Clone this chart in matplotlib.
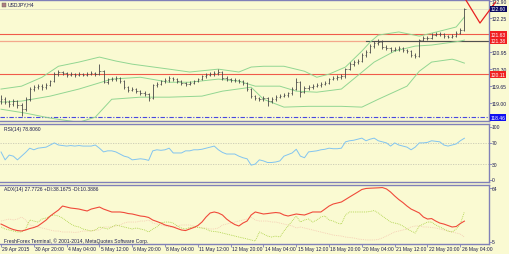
import matplotlib
matplotlib.use('Agg')
import matplotlib.pyplot as plt
from matplotlib.transforms import blended_transform_factory as btf
from matplotlib.patches import Rectangle

# ---------------- data ----------------
symbol_title = "USDJPY,H4"
rsi_title = "RSI(14) 78.8060"
adx_title = "ADX(14) 27.7726 +DI:38.1675 -DI:10.3886"
copyright_text = "FreshForex Terminal, \u00a9 2001-2014, MetaQuotes Software Corp."

x_labels = ['29 Apr 2015', '30 Apr 20:00', '4 May 04:00', '5 May 12:00', '6 May 20:00',
            '8 May 04:00', '11 May 12:00', '12 May 20:00', '14 May 04:00', '15 May 12:00',
            '18 May 20:00', '20 May 04:00', '21 May 12:00', '22 May 20:00', '26 May 04:00']
x_label_bars = [0, 8, 16, 24, 32, 40, 48, 56, 64, 72, 80, 88, 96, 104, 112]

opens = [119.10, 119.15, 119.04, 118.96, 119.08, 118.93, 118.77, 119.15, 119.54, 119.61,
         119.65, 119.61, 119.69, 119.84, 120.11, 120.19, 120.15, 120.07, 120.11, 120.07,
         120.11, 120.07, 120.11, 120.15, 120.11, 120.23, 119.80, 119.92, 119.92, 119.96,
         119.84, 119.61, 119.50, 119.54, 119.46, 119.38, 119.35, 119.19, 119.69, 119.73,
         119.84, 119.88, 119.96, 119.92, 119.84, 119.77, 119.73, 119.77, 119.84, 119.92,
         120.03, 120.07, 120.11, 120.15, 120.19, 119.96, 119.92, 119.88, 119.88, 119.84,
         119.77, 119.54, 119.27, 119.19, 119.15, 119.19, 119.08, 119.15, 119.23, 119.27,
         119.31, 119.38, 119.54, 119.80, 119.42, 119.58, 119.61, 119.65, 119.69, 119.73,
         119.77, 119.92, 119.96, 120.00, 120.03, 120.30, 120.49, 120.57, 120.61, 120.84,
         120.95, 121.18, 121.30, 121.34, 121.14, 121.11, 121.03, 121.07, 121.11, 121.03,
         120.99, 120.84, 120.80, 121.41, 121.49, 121.49, 121.60, 121.64, 121.64, 121.56,
         121.53, 121.56, 121.68, 121.79]
highs = [119.30, 119.22, 119.12, 119.15, 119.12, 119.00, 119.22, 119.60, 119.70, 119.74,
         119.72, 119.76, 119.90, 120.18, 120.26, 120.24, 120.20, 120.18, 120.16, 120.20,
         120.15, 120.19, 120.22, 120.20, 120.49, 120.28, 119.98, 119.99, 120.03, 120.00,
         119.88, 119.66, 119.62, 119.58, 119.52, 119.45, 119.40, 119.74, 119.80, 119.90,
         119.95, 120.02, 120.00, 119.96, 119.88, 119.82, 119.84, 119.90, 119.98, 120.08,
         120.14, 120.18, 120.22, 120.30, 120.22, 120.02, 119.97, 119.95, 119.93, 119.88,
         119.80, 119.58, 119.32, 119.25, 119.26, 119.23, 119.22, 119.30, 119.34, 119.38,
         119.44, 119.60, 119.95, 119.84, 119.64, 119.68, 119.72, 119.76, 119.80, 119.84,
         119.98, 120.03, 120.08, 120.10, 120.36, 120.56, 120.64, 120.70, 120.90, 121.02,
         121.25, 121.38, 121.44, 121.40, 121.22, 121.16, 121.14, 121.18, 121.15, 121.08,
         121.03, 120.90, 121.46, 121.56, 121.58, 121.67, 121.72, 121.70, 121.68, 121.62,
         121.63, 121.74, 121.86, 122.65]
lows = [118.98, 118.95, 118.85, 118.88, 118.82, 118.50, 118.72, 119.10, 119.45, 119.55,
        119.52, 119.55, 119.64, 119.80, 120.05, 120.08, 120.00, 120.02, 120.01, 120.03,
        120.02, 120.03, 120.06, 120.05, 120.06, 119.76, 119.75, 119.85, 119.86, 119.78,
        119.55, 119.44, 119.45, 119.40, 119.32, 119.28, 119.10, 119.15, 119.62, 119.68,
        119.78, 119.82, 119.85, 119.78, 119.70, 119.66, 119.68, 119.72, 119.80, 119.88,
        119.98, 120.02, 120.05, 120.08, 119.90, 119.86, 119.82, 119.80, 119.78, 119.70,
        119.48, 119.20, 119.12, 119.08, 119.10, 118.90, 119.02, 119.10, 119.18, 119.22,
        119.25, 119.33, 119.50, 119.25, 119.38, 119.52, 119.56, 119.60, 119.63, 119.68,
        119.72, 119.87, 119.90, 119.94, 119.98, 120.25, 120.42, 120.50, 120.56, 120.78,
        120.90, 121.12, 121.22, 121.08, 121.04, 120.95, 120.98, 121.01, 120.96, 120.92,
        120.78, 120.74, 120.76, 121.36, 121.42, 121.44, 121.55, 121.56, 121.50, 121.47,
        121.48, 121.52, 121.63, 121.75]
closes = [119.15, 119.04, 118.96, 119.08, 118.93, 118.77, 119.15, 119.54, 119.61, 119.65,
          119.61, 119.69, 119.84, 120.11, 120.19, 120.15, 120.07, 120.11, 120.07, 120.11,
          120.07, 120.11, 120.15, 120.11, 120.23, 119.80, 119.92, 119.92, 119.96, 119.84,
          119.61, 119.50, 119.54, 119.46, 119.38, 119.35, 119.19, 119.69, 119.73, 119.84,
          119.88, 119.96, 119.92, 119.84, 119.77, 119.73, 119.77, 119.84, 119.92, 120.03,
          120.07, 120.11, 120.15, 120.19, 119.96, 119.92, 119.88, 119.88, 119.84, 119.77,
          119.54, 119.27, 119.19, 119.15, 119.19, 119.08, 119.15, 119.23, 119.27, 119.31,
          119.38, 119.54, 119.80, 119.42, 119.58, 119.61, 119.65, 119.69, 119.73, 119.77,
          119.92, 119.96, 120.00, 120.03, 120.30, 120.49, 120.57, 120.61, 120.84, 120.95,
          121.18, 121.30, 121.34, 121.14, 121.11, 121.03, 121.07, 121.11, 121.03, 120.99,
          120.84, 120.80, 121.41, 121.49, 121.49, 121.60, 121.64, 121.64, 121.56, 121.53,
          121.56, 121.68, 121.79, 122.60]

bb_upper_bars = [0, 5, 10, 14, 19, 24, 28, 32, 41, 46, 53, 58, 61, 64, 69, 74, 77, 80, 84, 88, 90, 92, 97, 102, 107, 111, 113]
bb_upper = [119.54, 119.65, 119.99, 120.41, 120.57, 120.76, 120.61, 120.49, 120.30, 120.19, 120.30, 120.19, 120.38,
            120.41, 120.41, 120.22, 119.99, 120.11, 120.38, 120.99, 121.33, 121.60, 121.72, 121.56, 121.75, 121.91, 122.29]
bb_mid_bars = [0, 5, 12, 19, 27, 34, 41, 46, 53, 58, 62, 68, 72, 77, 83, 91, 96, 101, 105, 112, 113]
bb_mid = [119.04, 119.08, 119.27, 119.54, 119.92, 119.99, 119.80, 119.80, 119.92, 119.84, 119.65, 119.65, 119.46,
          119.42, 119.54, 120.57, 120.99, 121.18, 121.22, 121.37, 121.41]
bb_lower_bars = [0, 6, 12, 19, 23, 27, 34, 41, 49, 54, 61, 64, 69, 75, 83, 88, 92, 99, 102, 105, 110, 111, 113]
bb_lower = [118.77, 118.62, 118.43, 118.27, 118.47, 119.15, 119.23, 119.23, 119.27, 119.46, 119.61, 119.15, 118.85,
            118.88, 118.88, 118.85, 119.15, 119.65, 120.22, 120.57, 120.68, 120.64, 120.53]

level_bid = 122.60
level_red = [121.63, 120.11]
level_salmon = 121.38
level_blue = 118.46
dark_segment_start = 89

arrow_bars = [113.2, 116.8, 120.6]
arrow_prices = [122.98, 122.06, 122.86]

price_ticks = [122.90, 122.25, 120.95, 120.30, 119.65, 119.00]

rsi = [52.8, 38, 47, 45, 38, 45, 52, 60, 57, 60, 61, 62, 66, 70, 66, 65, 64, 65, 64, 65,
       64, 64, 64, 66, 60, 53, 55, 55, 53, 49, 45, 43, 38, 39, 40, 39, 37, 55, 57, 56,
       57, 60, 51, 51, 51, 55, 55, 57, 57, 58, 60, 62, 64, 57, 52, 49, 49, 49, 45, 42,
       40, 28, 30, 38, 36, 33, 33, 34, 36, 45, 48, 51, 58, 45, 42, 53, 54, 55, 57, 58,
       60, 59, 59, 60, 72, 74, 75, 77, 79, 74, 77, 79, 74, 72, 70, 64, 70, 66, 64, 62,
       57, 62, 70, 70, 71, 74, 73, 72, 66, 64, 66, 68, 74, 78.8]
rsi_levels = [70, 30]
rsi_ticks = [100, 70, 30, 0]

adx = [24.6, 22.5, 20.3, 18.6, 17.5, 17.0, 18.1, 19.7, 20.8, 22.5, 25.7, 29.0, 33.4, 36.7, 39.9, 44.3, 43.2, 42.1, 41.6, 41.0,
       39.9, 38.9, 41.0, 42.1, 43.2, 41.0, 39.4, 37.8, 37.8, 37.8, 37.2, 36.1, 35.6, 34.5, 33.4, 32.9, 31.8, 29.0, 27.4, 25.7,
       23.6, 22.5, 21.4, 19.7, 18.1, 17.5, 19.2, 20.8, 23.0, 26.8, 32.3, 36.7, 37.8, 36.7, 34.5, 30.1, 26.8, 24.1, 22.5, 25.7,
       27.9, 34.5, 37.8, 36.7, 35.6, 36.1, 36.7, 37.2, 36.7, 34.5, 33.4, 34.5, 35.6, 35.0, 34.5, 36.1, 37.8, 37.8, 37.8, 41.0,
       44.3, 46.5, 47.6, 48.7, 51.4, 54.2, 56.9, 59.6, 62.4, 63.5, 63.8, 64.0, 64.2, 64.5, 63.0, 59.6, 55.3, 51.4, 48.1, 44.3,
       41.0, 38.9, 36.7, 32.3, 30.1, 30.6, 27.9, 25.7, 24.6, 23.0, 21.4, 21.9, 25.2, 27.8]
plus_di = [21.4, 19.2, 18.1, 17.0, 15.9, 15.9, 19.2, 29.0, 27.9, 26.8, 30.1, 31.2, 33.4, 34.5, 33.4, 31.2, 27.9, 24.6, 22.5, 21.4,
           19.2, 18.1, 17.0, 18.1, 21.4, 20.3, 19.2, 21.4, 23.6, 22.5, 21.4, 20.3, 19.2, 20.3, 19.2, 18.1, 15.9, 19.2, 21.4, 25.7,
           26.8, 26.8, 25.7, 22.5, 20.3, 19.2, 20.8, 21.4, 20.8, 20.3, 19.2, 17.0, 16.5, 15.9, 14.8, 13.7, 12.6, 11.5, 10.4, 9.4,
           8.3, 7.2, 6.1, 15.9, 13.7, 11.5, 10.4, 11.5, 10.4, 17.0, 22.5, 27.9, 33.4, 26.8, 29.0, 30.1, 26.8, 29.0, 32.3, 33.4,
           29.0, 27.9, 25.7, 24.6, 34.5, 37.8, 37.8, 37.8, 37.8, 37.8, 38.3, 39.4, 36.7, 33.4, 30.1, 26.8, 25.7, 24.6, 22.5, 19.2,
           17.0, 14.8, 22.5, 24.6, 26.8, 26.8, 23.6, 21.4, 19.2, 17.0, 15.9, 19.2, 24.6, 38.2]
minus_di = [27.9, 29.0, 30.1, 29.0, 30.1, 32.3, 29.0, 23.6, 22.5, 21.4, 20.3, 19.2, 18.1, 17.0, 17.0, 15.9, 15.9, 15.9, 15.4, 15.9,
            17.0, 17.0, 17.0, 18.1, 18.1, 21.4, 21.4, 21.4, 22.5, 23.6, 25.7, 26.8, 26.8, 26.8, 27.9, 27.9, 29.0, 25.7, 24.6, 23.6,
            22.5, 21.4, 21.4, 22.5, 23.6, 23.6, 23.6, 22.5, 21.4, 20.3, 20.3, 19.2, 19.2, 20.3, 23.6, 24.6, 25.7, 26.8, 27.9, 29.0,
            30.1, 32.3, 29.0, 27.9, 27.9, 27.9, 26.8, 26.8, 25.7, 24.6, 23.6, 22.5, 20.3, 21.4, 20.3, 19.2, 18.1, 17.0, 15.9, 14.8,
            13.7, 12.6, 12.0, 11.5, 10.4, 9.9, 9.4, 8.3, 7.8, 7.2, 7.2, 7.2, 7.8, 9.4, 11.5, 13.7, 15.9, 17.0, 18.1, 19.2,
            21.4, 22.5, 22.5, 21.4, 21.4, 20.8, 20.3, 19.2, 18.1, 17.0, 15.9, 14.8, 13.7, 10.4]
adx_ticks = [64, 5]

# ---------------- style ----------------
W, H = 510, 255
BG = '#FAFAD2'
FRAME = '#8080B8'
TXT = '#1C1C50'
FONT = 'Liberation Sans'
FS = 3.6
RIGHT = 489

fig = plt.figure(figsize=(W / 100, H / 100), dpi=100)
fig.patch.set_facecolor(BG)


def rect(top, bottom, left=0, right=RIGHT):
    return [left / W, 1 - bottom / H, (right - left) / W, (bottom - top) / H]


ax = fig.add_axes(rect(1, 122))
axr = fig.add_axes(rect(124.5, 183))
axa = fig.add_axes(rect(186, 245))

n = len(closes)
XLIM = (-0.25, 119.0)
for a in (ax, axr, axa):
    a.set_facecolor(BG)
    a.set_xlim(*XLIM)
    for side in ('top', 'bottom', 'right'):
        a.spines[side].set_color(FRAME)
        a.spines[side].set_linewidth(1.0)
    a.spines['left'].set_visible(False)
    a.tick_params(left=False, labelleft=False, labelbottom=False, bottom=False,
                  right=True, labelright=False, direction='out', length=1.8, width=0.6, color=FRAME)

ax.set_ylim(118.32, 122.94)
axr.set_ylim(-3.8, 106.6)
axa.set_ylim(2.8, 67.3)

# ---------- main chart ----------
xs = list(range(n))
BB = '#92D692'
ax.plot(bb_upper_bars, bb_upper, color=BB, lw=0.7, zorder=2)
ax.plot(bb_mid_bars, bb_mid, color=BB, lw=0.7, zorder=2)
ax.plot(bb_lower_bars, bb_lower, color=BB, lw=0.7, zorder=2)

ax.axhline(level_bid, color='#DEDEC8', lw=0.6, zorder=1)
for lv in level_red:
    ax.axhline(lv, color='#F05A4A', lw=0.8, zorder=1)
ax.axhline(level_salmon, color='#F4A88C', lw=0.9, zorder=1)
ax.plot([dark_segment_start, XLIM[1]], [level_salmon, level_salmon], color='#505050', lw=0.8, zorder=1)
ax.axhline(level_blue, color='#4848E0', lw=0.8, ls=(0, (4, 1.5, 1, 1.5)), zorder=1)

BAR = '#484848'
ax.vlines(xs, lows, highs, color=BAR, lw=0.6, zorder=3)
ax.hlines(opens, [x - 0.3 for x in xs], xs, color=BAR, lw=0.45, zorder=3)
ax.hlines(closes, xs, [x + 0.3 for x in xs], color=BAR, lw=0.45, zorder=3)

ax.plot(arrow_bars, arrow_prices, color='#E82020', lw=0.9, clip_on=False, zorder=6)
ax.annotate('', xy=(arrow_bars[2], arrow_prices[2]), xytext=(arrow_bars[1] + 1.5, arrow_prices[1] + 0.2),
            arrowprops=dict(arrowstyle='-|>', color='#E82020', lw=0.0, mutation_scale=5),
            annotation_clip=False, zorder=6)

ax.set_yticks(price_ticks)
tr = btf(ax.transAxes, ax.transData)
LX = 1 + 3 / RIGHT
for v in price_ticks:
    ax.text(LX, v, f'{v:.2f}', transform=tr, ha='left', va='center', fontsize=FS, family=FONT, color=TXT)


def box(a, v, label, fc):
    a.text(1 + 1.5 / RIGHT, v, label, transform=btf(a.transAxes, a.transData), ha='left', va='center',
           fontsize=FS, family=FONT, color='white', zorder=10,
           bbox=dict(boxstyle='square,pad=0.18', fc=fc, ec='none'))


box(ax, level_bid, f'{level_bid:.2f}', '#0A0A60')
box(ax, level_red[0], f'{level_red[0]:.2f}', '#F02020')
box(ax, level_salmon, f'{level_salmon:.2f}', '#F02020')
box(ax, level_red[1], f'{level_red[1]:.2f}', '#F02020')
box(ax, level_blue, f'{level_blue:.2f}', '#1010F0')

ax.text(8 / RIGHT, 1 - 4 / 121, symbol_title, transform=ax.transAxes, ha='left', va='center',
        fontsize=FS, family=FONT, color=TXT)
ax.add_patch(Rectangle((2 / RIGHT, 1 - 6.5 / 121), 4 / RIGHT, 4 / 121, transform=ax.transAxes,
                       fc='#B08080', ec='#606060', lw=0.3, clip_on=False))

# ---------- RSI ----------
for lv in rsi_levels:
    axr.axhline(lv, color='#C8C8B4', lw=0.6, ls=(0, (1.5, 1.5)))
axr.plot(xs, rsi, color='#82C4F0', lw=0.7)
axr.set_yticks(rsi_ticks)
trr = btf(axr.transAxes, axr.transData)
for v in rsi_ticks:
    axr.text(LX, v, f'{v}', transform=trr, ha='left', va='center', fontsize=FS, family=FONT, color=TXT)
axr.text(4 / RIGHT, 1 - 4.5 / 58.5, rsi_title, transform=axr.transAxes, ha='left', va='center',
         fontsize=FS, family=FONT, color=TXT)

# ---------- ADX ----------
axa.plot(xs, minus_di, color='#F5C8B0', lw=0.6, ls=(0, (1, 1.2)))
axa.plot(xs, plus_di, color='#A8D040', lw=0.6, ls=(0, (1, 1.2)))
axa.plot(xs, adx, color='#F04A3A', lw=0.8)
axa.set_yticks(adx_ticks)
tra = btf(axa.transAxes, axa.transData)
for v in adx_ticks:
    axa.text(LX, v, f'{v}', transform=tra, ha='left', va='center', fontsize=FS, family=FONT, color=TXT)
axa.text(4 / RIGHT, 1 - 4 / 59, adx_title, transform=axa.transAxes, ha='left', va='center',
         fontsize=FS, family=FONT, color=TXT)
axa.text(4 / RIGHT, 4 / 59, copyright_text, transform=axa.transAxes, ha='left', va='center',
         fontsize=FS, family=FONT, color=TXT)

# x axis labels
axa.set_xticks(x_label_bars)
axa.tick_params(bottom=True, length=2, width=0.6, color=FRAME)
trx = btf(axa.transData, fig.transFigure)
for b, lab in zip(x_label_bars, x_labels):
    axa.text(b + 0.3, 1 - 250 / H, lab, transform=trx, ha='left', va='center',
             fontsize=FS, family=FONT, color=TXT, clip_on=False)

fig.savefig('out.png', dpi=100, facecolor=BG)
